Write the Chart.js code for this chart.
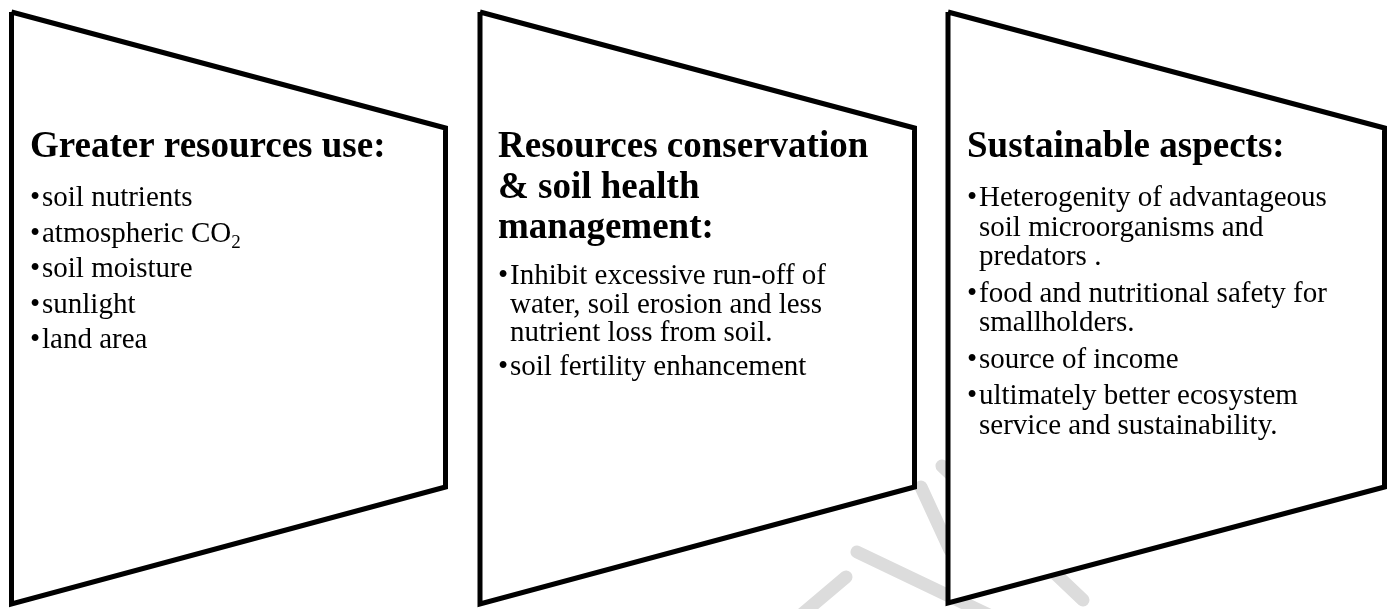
<!DOCTYPE html>
<html><head><meta charset="utf-8">
<script src="https://cdn.jsdelivr.net/npm/chart.js@4.4.1/dist/chart.umd.min.js"></script>
<style>html,body{margin:0;padding:0;background:#fff;overflow:hidden}canvas{display:block}</style>
</head><body>
<canvas id="c" width="1391" height="609"></canvas>
<script>
// ---- shape values (in chart units, x 0..1391, y 0..609 downward) ----
const panelLeftX = [11.5, 480, 948];
const panelRightX = [445.5, 914.5, 1384.5];
const panelTopLeftY = [12, 12, 12];
const panelTopRightY = [128, 128, 128];
const panelBottomRightY = [487, 487, 487];
const panelBottomLeftY = [604, 604, 603];

// faint watermark strokes (partly hidden behind the white panels)
const watermarkX = [[846, 788], [857, 1012], [921, 950], [942, 1083]];
const watermarkY = [[577, 626], [552, 626], [487, 550], [466, 600]];

// ---- texts ----
const panelTitles = [
  ["Greater resources use:"],
  ["Resources conservation", "& soil health", "management:"],
  ["Sustainable aspects:"]
];
const panelItems = [
  [["soil nutrients"], ["atmospheric CO{2}"], ["soil moisture"], ["sunlight"], ["land area"]],
  [["Inhibit excessive run-off of", "water, soil erosion and less", "nutrient loss from soil."], ["soil fertility enhancement"]],
  [["Heterogenity of advantageous", "soil microorganisms and", "predators ."],
   ["food and nutritional safety for", "smallholders."],
   ["source of income"],
   ["ultimately better ecosystem", "service and sustainability."]]
];

// ---- layout / style ----
const textX = [30, 498, 967];
const titleBaseline = 157;
const titleLineH = 40.5;
const bulletStart = [206, 284, 206];
const wrapLineH = [29, 28.5, 29.5];
const itemLineH = [35.5, 34, 36.5];
const bulletIndent = 12;
const FONT = '"Liberation Serif", "Times New Roman", serif';

const datasets = [];
for (let i = 0; i < watermarkX.length; i++) {
  datasets.push({
    data: watermarkX[i].map((x, j) => ({x, y: watermarkY[i][j]})),
    showLine: true, borderColor: '#dcdcdc', borderWidth: 13, borderCapStyle: 'round',
    pointRadius: 0, fill: false, order: 2, clip: false
  });
}
for (let p = 0; p < panelLeftX.length; p++) {
  const pts = [
    {x: panelLeftX[p], y: panelTopLeftY[p]},
    {x: panelRightX[p], y: panelTopRightY[p]},
    {x: panelRightX[p], y: panelBottomRightY[p]},
    {x: panelLeftX[p], y: panelBottomLeftY[p]},
    {x: panelLeftX[p], y: panelTopLeftY[p]}
  ];
  datasets.push({
    data: pts, showLine: true, borderColor: '#000', borderWidth: 5,
    backgroundColor: '#ffffff', fill: 'shape',
    borderJoinStyle: 'miter', pointRadius: 0, order: 1, clip: false
  });
}

function drawRich(ctx, str, x, y, size) {
  const parts = str.split(/(\{[^}]*\})/);
  let cx = x;
  for (const part of parts) {
    if (!part) continue;
    if (part.startsWith('{')) {
      const s = part.slice(1, -1);
      ctx.font = Math.round(size * 0.65) + 'px ' + FONT;
      ctx.fillText(s, cx, y + size * 0.22);
      cx += ctx.measureText(s).width;
    } else {
      ctx.font = size + 'px ' + FONT;
      ctx.fillText(part, cx, y);
      cx += ctx.measureText(part).width;
    }
  }
}

const textPlugin = {
  id: 'panelText',
  afterDatasetsDraw(chart) {
    const ctx = chart.ctx;
    const sx = chart.scales.x, sy = chart.scales.y;
    ctx.save();
    ctx.fillStyle = '#000';
    ctx.textBaseline = 'alphabetic';
    ctx.textAlign = 'left';
    for (let p = 0; p < panelTitles.length; p++) {
      const x0 = sx.getPixelForValue(textX[p]);
      ctx.font = 'bold 37px ' + FONT;
      let y = titleBaseline;
      for (const line of panelTitles[p]) {
        ctx.fillText(line, x0, sy.getPixelForValue(y));
        y += titleLineH;
      }
      y = bulletStart[p];
      for (const item of panelItems[p]) {
        ctx.font = '29px ' + FONT;
        ctx.fillText('\u2022', x0, sy.getPixelForValue(y));
        item.forEach((line, k) => {
          drawRich(ctx, line, sx.getPixelForValue(textX[p] + bulletIndent), sy.getPixelForValue(y), 29);
          if (k < item.length - 1) y += wrapLineH[p];
        });
        y += itemLineH[p];
      }
    }
    ctx.restore();
  }
};

new Chart(document.getElementById('c'), {
  type: 'scatter',
  data: {datasets},
  options: {
    responsive: false, animation: false, devicePixelRatio: 1, events: [],
    layout: {padding: 0},
    plugins: {legend: {display: false}, tooltip: {enabled: false}, title: {display: false}},
    scales: {
      x: {type: 'linear', min: 0, max: 1391, display: false},
      y: {type: 'linear', min: 0, max: 609, reverse: true, display: false}
    }
  },
  plugins: [textPlugin]
});
</script>
</body></html>
